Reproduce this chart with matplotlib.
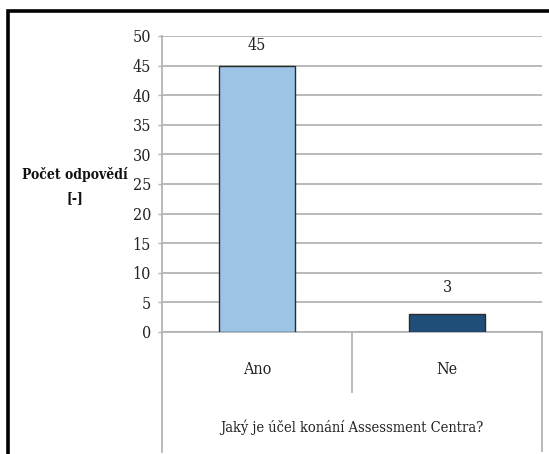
import matplotlib
matplotlib.use("Agg")
import matplotlib.pyplot as plt
from matplotlib.lines import Line2D
from matplotlib.patches import Rectangle

# survey answers
categories = ["Ano", "Ne"]
counts = [45, 3]
bar_colors = ["#9dc3e6", "#1f4e79"]
y_ticks = list(range(0, 51, 5))

question = "Jaký je účel konání Assessment Centra?"
y_title = "Počet odpovědí\n[-]"

W, H = 549, 454
FONT = dict(family="DejaVu Serif", stretch="condensed")
GRID = "#b4b4b4"


def px(x, y):
    """Pixel position (from top-left) to figure fraction."""
    return x / W, 1 - y / H


fig = plt.figure(figsize=(W / 100, H / 100), dpi=100)

left, top = px(162, 36)
right, bottom = px(542, 332)
ax = fig.add_axes([left, bottom, right - left, top - bottom])

x = range(len(categories))
bars = ax.bar(x, counts, width=0.405, color=bar_colors, edgecolor="#2b2b2b",
              linewidth=1.0, zorder=3)

# value labels above the bars
for rect, val, pad in zip(bars, counts, [20, 27]):
    ax.annotate(str(val), (rect.get_x() + rect.get_width() / 2, val),
                xytext=(0, pad * 0.72), textcoords="offset points",
                ha="center", va="center", fontsize=11.5, color="#222222", **FONT)

ax.set_xlim(-0.5, len(categories) - 0.5)
ax.set_ylim(0, 50)
ax.set_yticks(y_ticks)
ax.set_yticklabels([str(t) for t in y_ticks], fontsize=11.5, color="#222222", **FONT)
ax.yaxis.grid(True, color=GRID, linewidth=1.3, zorder=0)
ax.set_axisbelow(True)
ax.tick_params(axis="y", length=3, width=1.0, color=GRID, pad=5)
ax.set_xticks([])

for side in ("top", "right"):
    ax.spines[side].set_visible(False)
ax.spines["left"].set_color(GRID)
ax.spines["left"].set_linewidth(1.3)
ax.spines["bottom"].set_color(GRID)
ax.spines["bottom"].set_linewidth(1.3)

# category table under the x axis
def vline(xp, y0, y1):
    (fx, fy0), (_, fy1) = px(xp, y0), px(xp, y1)
    fig.add_artist(Line2D([fx, fx], [fy0, fy1], color=GRID, linewidth=1.3))


vline(162, 332, 452)
vline(352, 332, 392)
vline(542, 332, 451)

for i, cat in enumerate(categories):
    cx = 162 + (i + 0.5) * (542 - 162) / len(categories)
    fig.text(*px(cx, 370), cat, ha="center", va="center", fontsize=11.5,
             color="#222222", **FONT)

fig.text(*px(352, 427), question, ha="center", va="center", fontsize=10.5,
         color="#222222", **FONT)

fig.text(*px(75, 186), y_title, ha="center", va="center", fontsize=10,
         fontweight="bold", linespacing=1.8, color="#111111", **FONT)

# outer frame
fx0, fy0 = px(8, 11)
fig.add_artist(Rectangle((fx0, -0.05), 1.1, fy0 + 0.05, fill=False,
                         edgecolor="black", linewidth=2.6,
                         transform=fig.transFigure))

fig.savefig("out.png", dpi=100)
